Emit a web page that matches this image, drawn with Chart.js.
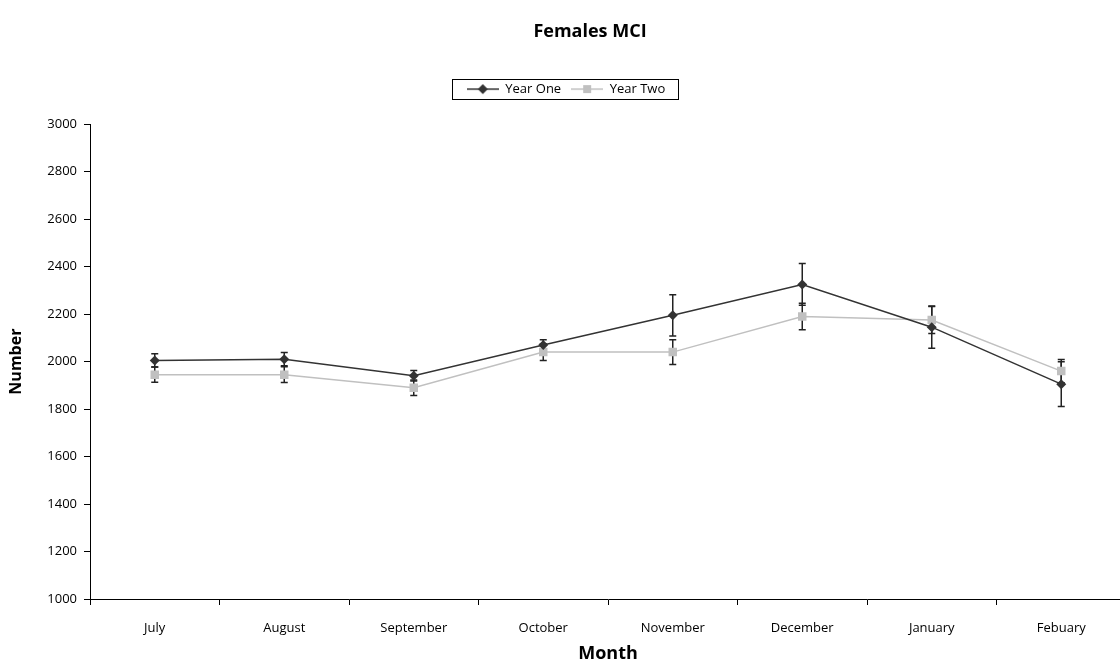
<!DOCTYPE html>
<html>
<head>
<meta charset="utf-8">
<script src="https://cdn.jsdelivr.net/npm/chart.js@4.4.1/dist/chart.umd.min.js"></script>
<style>
html,body{margin:0;padding:0;background:#fff;overflow:hidden;}
#wrap{position:relative;width:1132px;height:665px;}
</style>
</head>
<body>
<div id="wrap"><canvas id="c"></canvas></div>
<script>
const months = ['July','August','September','October','November','December','January','Febuary'];
const yearOne = [2005, 2010, 1940, 2070, 2195, 2325, 2145, 1905];
const yearOneErr = [28, 28, 22, 22, 87, 88, 89, 94];
const yearTwo = [1945, 1945, 1890, 2040, 2040, 2190, 2175, 1960];
const yearTwoErr = [32, 33, 33, 35, 52, 56, 57, 49];
const yTicks = {min: 1000, max: 3000, step: 200};

const darkCol = '#333333';
const lightCol = '#c0c0c0';

Chart.defaults.font.family = "'Open Sans', sans-serif";
Chart.defaults.color = '#000';

function legendIcon(kind, color) {
  const cv = document.createElement('canvas');
  cv.width = 32; cv.height = 12;
  const g = cv.getContext('2d');
  g.strokeStyle = color; g.lineWidth = 1.5;
  g.beginPath(); g.moveTo(0, 6); g.lineTo(32, 6); g.stroke();
  g.fillStyle = color;
  g.beginPath();
  if (kind === 'diamond') {
    g.moveTo(16, 1); g.lineTo(21, 6); g.lineTo(16, 11); g.lineTo(11, 6); g.closePath();
  } else {
    g.rect(12, 2, 8, 8);
  }
  g.fill();
  return cv;
}

const errorBars = {
  id: 'errorBars',
  beforeDatasetsDraw(chart) {
    const ctx = chart.ctx;
    const ys = chart.scales.y;
    ctx.save();
    chart.data.datasets.forEach((ds, di) => {
      const meta = chart.getDatasetMeta(di);
      ctx.strokeStyle = '#222';
      ctx.lineWidth = 1.5;
      meta.data.forEach((pt, i) => {
        const v = ds.data[i], e = ds.errors[i];
        const yt = ys.getPixelForValue(v + e);
        const yb = ys.getPixelForValue(v - e);
        const x = pt.x;
        ctx.beginPath();
        ctx.moveTo(x, yt); ctx.lineTo(x, yb);
        ctx.moveTo(x - 3.5, yt); ctx.lineTo(x + 3.5, yt);
        ctx.moveTo(x - 3.5, yb); ctx.lineTo(x + 3.5, yb);
        ctx.stroke();
      });
    });
    ctx.restore();
  }
};

const layoutTweaks = {
  id: 'layoutTweaks',
  beforeInit(chart) {
    const lg = chart.legend;
    if (lg) {
      const orig = lg.fit;
      lg.fit = function() { orig.call(this); this.height = 51.6; };
    }
  },
  afterLayout(chart) {
    if (chart.titleBlock) {
      chart.titleBlock.left = 48;
    }
  },
  afterDraw(chart) {
    const lg = chart.legend;
    if (!lg || !lg.legendHitBoxes || !lg.legendHitBoxes.length) return;
    const hb = lg.legendHitBoxes;
    const first = hb[0], last = hb[hb.length - 1];
    const ctx = chart.ctx;
    ctx.save();
    ctx.strokeStyle = '#000';
    ctx.lineWidth = 1;
    const l = Math.round(first.left - 15) + 0.5;
    const r = Math.round(last.left + last.width + 13) + 0.5;
    const t = Math.round(first.top - 3.5) + 0.5;
    const b = Math.round(first.top + 16.5) + 0.5;
    ctx.strokeRect(l, t, r - l, b - t);
    ctx.restore();
  }
};

new Chart(document.getElementById('c'), {
  type: 'line',
  data: {
    labels: months,
    datasets: [
      {
        label: 'Year One',
        data: yearOne,
        errors: yearOneErr,
        borderColor: darkCol,
        backgroundColor: darkCol,
        borderWidth: 1.5,
        pointStyle: 'rectRot',
        pointRadius: 5,
        pointBorderWidth: 0,
        pointBackgroundColor: darkCol,
        tension: 0
      },
      {
        label: 'Year Two',
        data: yearTwo,
        errors: yearTwoErr,
        borderColor: lightCol,
        backgroundColor: lightCol,
        borderWidth: 1.5,
        pointStyle: 'rect',
        pointRadius: 6,
        pointBorderWidth: 0,
        pointBackgroundColor: lightCol,
        tension: 0
      }
    ]
  },
  options: {
    responsive: true,
    maintainAspectRatio: false,
    animation: false,
    layout: {padding: 0},
    plugins: {
      title: {
        display: true,
        text: 'Females MCI',
        font: {size: 18, weight: 'bold'},
        color: '#000',
        padding: {top: 21, bottom: 30}
      },
      legend: {
        display: true,
        position: 'top',
        labels: {
          usePointStyle: true,
          pointStyleWidth: 32,
          padding: 10,
          font: {size: 13},
          color: '#000',
          generateLabels(chart) {
            return [
              {text: 'Year One', pointStyle: legendIcon('diamond', darkCol), fillStyle: darkCol, strokeStyle: darkCol, lineWidth: 0, datasetIndex: 0, hidden: false},
              {text: 'Year Two', pointStyle: legendIcon('square', lightCol), fillStyle: lightCol, strokeStyle: lightCol, lineWidth: 0, datasetIndex: 1, hidden: false}
            ];
          }
        }
      },
      tooltip: {enabled: false}
    },
    scales: {
      x: {
        type: 'category',
        offset: true,
        grid: {drawOnChartArea: false, offset: true, tickLength: 6, color: '#000', lineWidth: 1},
        border: {color: '#000', width: 1},
        ticks: {font: {size: 13}, color: '#000', padding: 15, maxRotation: 0, autoSkip: false},
        title: {display: true, text: 'Month', font: {size: 18, weight: 'bold'}, color: '#000', padding: {top: 0, bottom: 0}},
        afterFit(s) { s.height = 66; }
      },
      y: {
        min: yTicks.min,
        max: yTicks.max,
        grid: {drawOnChartArea: false, tickLength: 6, color: '#000', lineWidth: 1},
        border: {color: '#000', width: 1},
        ticks: {stepSize: yTicks.step, font: {size: 13}, color: '#000', padding: 7, callback: (v) => String(v)},
        title: {display: true, text: 'Number', font: {size: 16, weight: 'bold'}, color: '#000', padding: {top: 7, bottom: 0}},
        afterFit(s) { s.width = 90; }
      }
    }
  },
  plugins: [errorBars, layoutTweaks]
});
</script>
</body>
</html>
